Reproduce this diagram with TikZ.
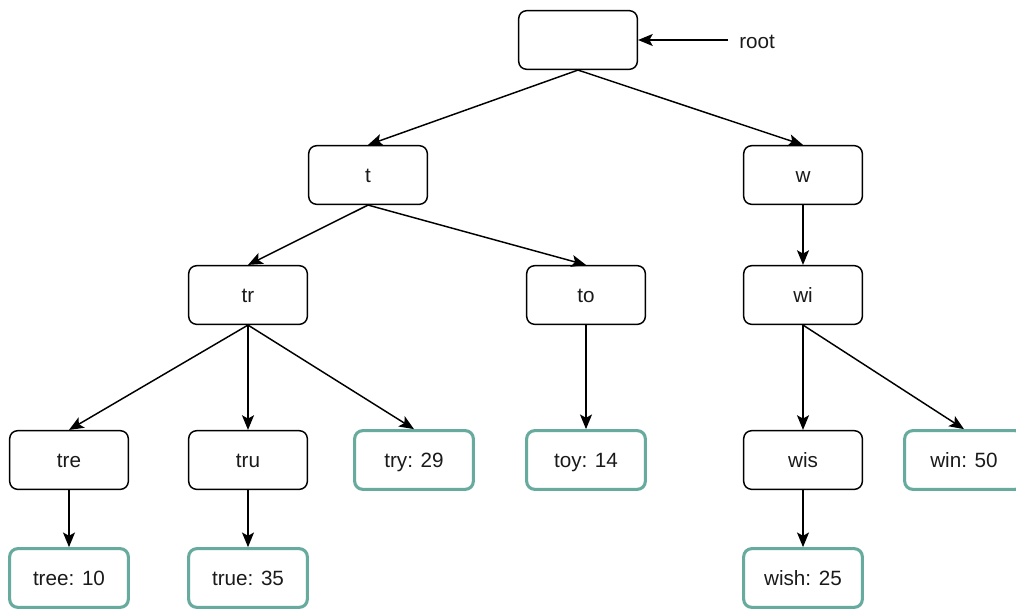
\documentclass[tikz,border=0pt]{standalone}
\usepackage{fontspec}
\setmainfont{Liberation Sans}
\usetikzlibrary{arrows.meta}
\definecolor{tealb}{HTML}{67AB9F}
\definecolor{txt}{HTML}{1A1A1A}
\tikzset{
  box/.style={draw=black, line width=1.1pt, rounded corners=6pt, fill=white,
    minimum width=89pt, minimum height=44pt, inner sep=0pt,
    text height=11.1pt, text depth=0pt,
    font=\fontsize{15.5}{18}\selectfont, text=txt},
  leaf/.style={box, draw=tealb, line width=2.3pt},
  edge/.style={line width=1.1pt, -{Stealth[length=11pt,width=9pt,inset=2.5pt]}}
}
\begin{document}
\begin{tikzpicture}[x=0.75pt,y=-0.75pt]
\useasboundingbox (0,0) rectangle (1016,610);
\node[box] (root) at (578,40) {};
\node[box] (t) at (368,175) {t};
\node[box] (w) at (803,175) {w};
\node[box] (tr) at (248,295) {tr};
\node[box] (to) at (586,295) {to};
\node[box] (wi) at (803,295) {wi};
\node[box] (tre) at (69,460) {tre};
\node[box] (tru) at (248,460) {tru};
\node[leaf] (try) at (414,460) {try: 29};
\node[leaf] (toy) at (586,460) {toy: 14};
\node[box] (wis) at (803,460) {wis};
\node[leaf] (win) at (964,460) {win: 50};
\node[leaf] (tree) at (69,578) {tree: 10};
\node[leaf] (true) at (248,578) {true: 35};
\node[leaf] (wish) at (803,578) {wish: 25};
\node[font=\fontsize{15.5}{18}\selectfont, text=txt, anchor=west, inner sep=0pt] (rootlbl) at (739,42) {root};
\coordinate (rl) at (728,40);
\draw[edge] (rl) -- (root.east);
\draw[edge] (root.south) -- (t.north);
\draw[edge] (root.south) -- (w.north);
\draw[edge] (t.south) -- (tr.north);
\draw[edge] (t.south) -- (to.north);
\draw[edge] (w.south) -- (wi.north);
\draw[edge] (tr.south) -- (tre.north);
\draw[edge] (tr.south) -- (tru.north);
\draw[edge] (tr.south) -- (try.north);
\draw[edge] (to.south) -- (toy.north);
\draw[edge] (wi.south) -- (wis.north);
\draw[edge] (wi.south) -- (win.north);
\draw[edge] (tre.south) -- (tree.north);
\draw[edge] (tru.south) -- (true.north);
\draw[edge] (wis.south) -- (wish.north);
\end{tikzpicture}
\end{document}
